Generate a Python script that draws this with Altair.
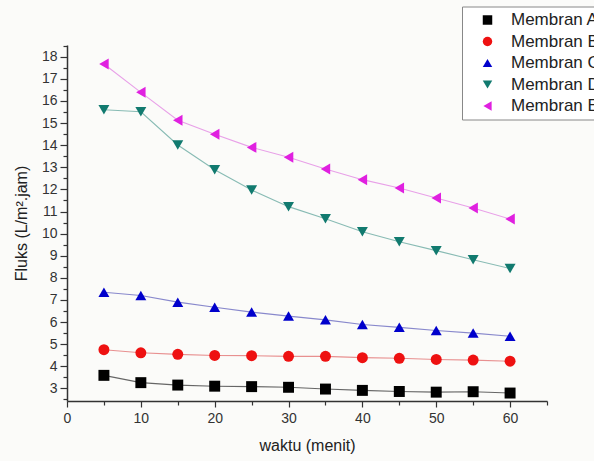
import altair as alt
import pandas as pd

waktu = [5, 10, 15, 20, 25, 30, 35, 40, 45, 50, 55, 60]
membran_a = [3.59, 3.26, 3.15, 3.10, 3.08, 3.05, 2.97, 2.91, 2.86, 2.83, 2.85, 2.79]
membran_b = [4.75, 4.61, 4.54, 4.49, 4.48, 4.45, 4.45, 4.39, 4.36, 4.31, 4.28, 4.23]
membran_c = [7.35, 7.20, 6.90, 6.67, 6.45, 6.27, 6.10, 5.89, 5.76, 5.62, 5.50, 5.36]
membran_d = [15.60, 15.51, 14.01, 12.89, 11.97, 11.22, 10.67, 10.08, 9.63, 9.23, 8.82, 8.42]
membran_e = [17.67, 16.39, 15.13, 14.49, 13.90, 13.45, 12.92, 12.44, 12.06, 11.61, 11.16, 10.66]

series_names = ["Membran A", "Membran B", "Membran C", "Membran D", "Membran E"]
series_values = [membran_a, membran_b, membran_c, membran_d, membran_e]
marker_colors = ["#000000", "#ee1111", "#0000cc", "#117a6f", "#e020e0"]
line_colors = ["#666666", "#e89090", "#8888cc", "#88bbb4", "#e8a0e8"]
shapes = ["square", "circle", "triangle-up", "triangle-down", "triangle-left"]

rows = []
for name, vals in zip(series_names, series_values):
    for t, v in zip(waktu, vals):
        rows.append({"waktu": t, "fluks": v, "membran": name})
df = pd.DataFrame(rows)

x_ticks = [0, 5, 10, 15, 20, 25, 30, 35, 40, 45, 50, 55, 60, 65]
y_ticks = [2.5 + 0.5 * i for i in range(33)]

FONT = "Liberation Sans"

common_axis = dict(
    grid=False,
    labelOverlap=False,
    labelFlush=False,
    tickCount=100,
    domainColor="#333333",
    domainWidth=1.5,
    tickColor="#333333",
    tickWidth=1.2,
    labelFont=FONT,
    labelFontSize=14,
    labelColor="#333333",
    titleFont=FONT,
    titleFontSize=16,
    titleFontWeight="normal",
    titleColor="#222222",
)

x_enc = alt.X(
    "waktu:Q",
    title="waktu (menit)",
    scale=alt.Scale(domain=[0, 65], nice=False, zero=False),
    axis=alt.Axis(
        values=x_ticks,
        labelExpr="datum.value % 10 === 0 ? format(datum.value, 'd') : ''",
        tickSize={"condition": {"test": "datum.value % 10 === 0", "value": 6}, "value": 4},
        labelPadding=4,
        titlePadding=12,
        **common_axis,
    ),
)
y_enc = alt.Y(
    "fluks:Q",
    title="Fluks (L/m\u00b2.jam)",
    scale=alt.Scale(domain=[2.43, 18.53], nice=False, zero=False),
    axis=alt.Axis(
        values=y_ticks,
        labelExpr="datum.value % 1 === 0 ? format(datum.value, 'd') : ''",
        tickSize={"condition": {"test": "datum.value % 1 === 0", "value": 7}, "value": 4},
        labelPadding=3,
        titlePadding=12,
        **common_axis,
    ),
)

lines = alt.Chart(df).mark_line(strokeWidth=1.1).encode(
    x=x_enc,
    y=y_enc,
    color=alt.Color("membran:N", scale=alt.Scale(domain=series_names, range=line_colors), legend=None),
    detail="membran:N",
)

points = alt.Chart(df).mark_point(filled=True, opacity=1, size=120).encode(
    x="waktu:Q",
    y="fluks:Q",
    fill=alt.Fill(
        "membran:N",
        scale=alt.Scale(domain=series_names, range=marker_colors),
        legend=alt.Legend(
            title=None,
            orient="none",
            legendX=395,
            legendY=-38.5,
            fillColor="#ffffff",
            strokeColor="#888888",
            padding=5,
            labelFont=FONT,
            labelFontSize=17,
            labelColor="#222222",
            symbolSize=90,
            symbolOffset=12,
            rowPadding=3.5,
            labelOffset=15,
            offset=0,
        ),
    ),
    shape=alt.Shape(
        "membran:N",
        scale=alt.Scale(domain=series_names, range=shapes),
    ),
)

chart = (
    alt.layer(lines, points)
    .resolve_scale(color="independent")
    .properties(
        width=480,
        height=356,
        background="#fbfbf9",
        padding={"left": 67, "top": 45, "right": 47, "bottom": 60},
        autosize=alt.AutoSizeParams(type="none"),
    )
    .configure_view(stroke=None)
)

chart.save("out.html", embed_options={"renderer": "svg", "actions": False})
